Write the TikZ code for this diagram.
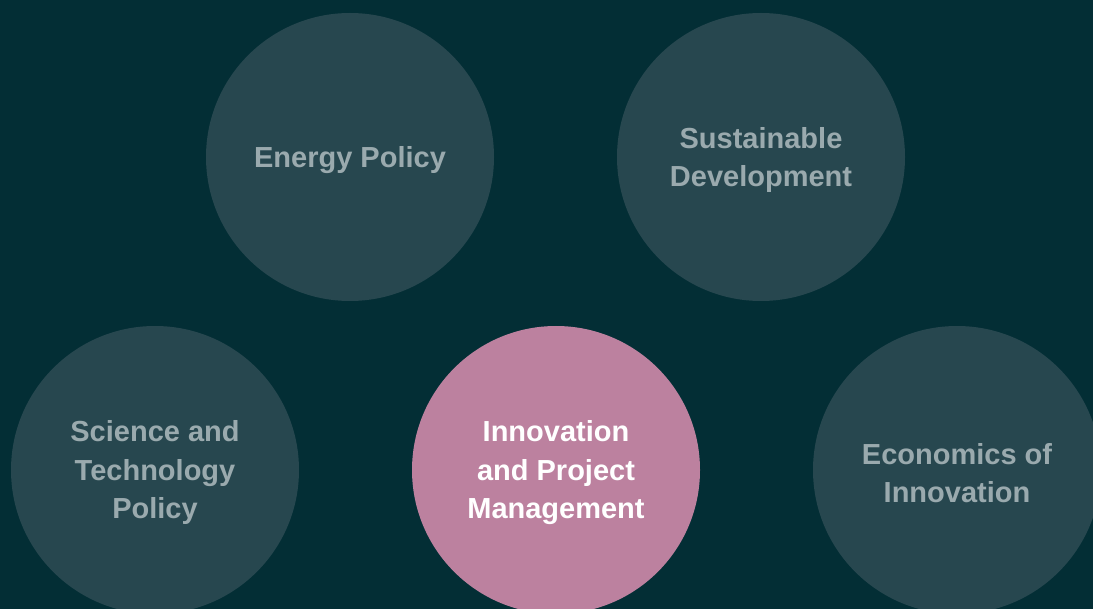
\documentclass[tikz,border=0pt]{standalone}
\usepackage{fontspec}
\setmainfont{Liberation Sans}
\definecolor{fondo}{HTML}{032E35}
\definecolor{circulo}{HTML}{27474F}
\definecolor{rosa}{HTML}{BC819F}
\definecolor{gris}{HTML}{9AAAAE}
\tikzset{
	tema/.style={inner sep=0pt,text=gris,align=center,
		font=\fontsize{29}{38.5}\selectfont\bfseries},
	activo/.style={tema,text=white}
}
\begin{document}
\begin{tikzpicture}[x=1pt,y=-1pt]
	\fill[fondo] (0,0) rectangle (1093,609);
	\useasboundingbox (0,0) rectangle (1093,609);
	\begin{scope}
	\clip (0,0) rectangle (1093,609);
	% areas de la fila superior y de la inferior
	\foreach \Xc/\Yc/\Nombre/\Texto in
	{350/157/energy/Energy Policy,
	 761/157/sust/Sustainable\\Development,
	 155/470/sci/Science and\\Technology\\Policy,
	 957/470/econ/Economics of\\Innovation}
	{
		\fill[circulo] (\Xc,\Yc) circle[radius=144];
		\node[tema] (\Nombre) at ([yshift=-3pt]\Xc,\Yc) {\Texto};
	}
	% el area destacada
	\fill[rosa] (556,470) circle[radius=144];
	\node[activo] (innov) at ([yshift=-3pt]556,470) {Innovation\\and Project\\Management};
	\end{scope}
\end{tikzpicture}
\end{document}
